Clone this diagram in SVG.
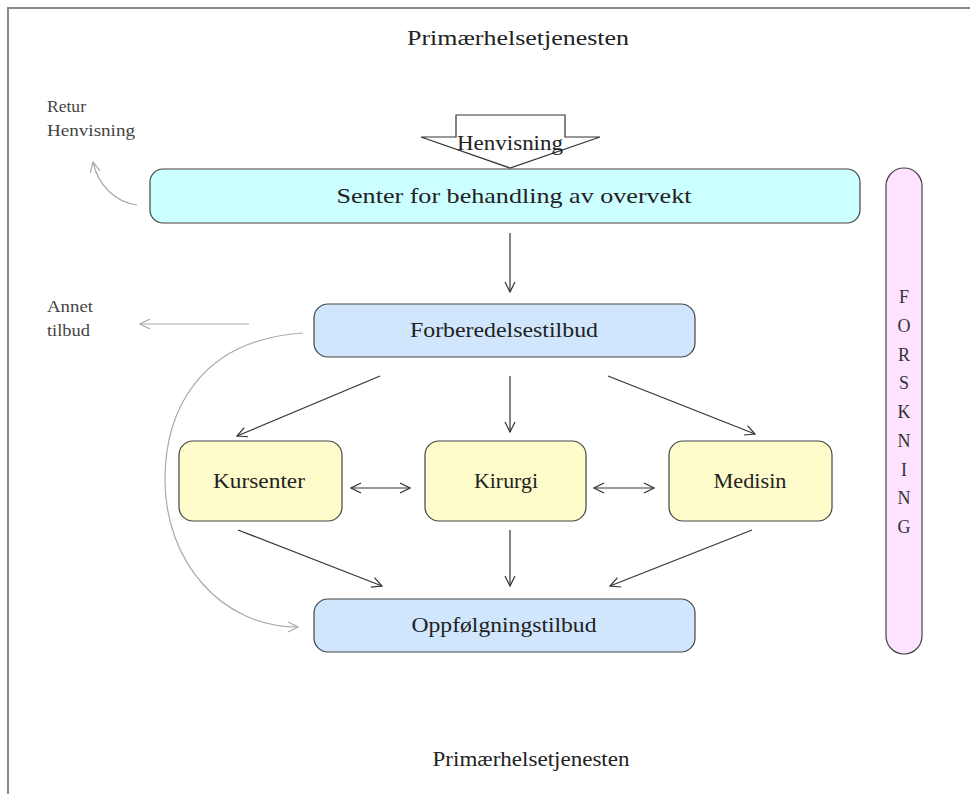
<svg xmlns="http://www.w3.org/2000/svg" width="970" height="794" viewBox="0 0 970 794">
<defs>
<marker id="ah" viewBox="0 0 12 12" refX="11" refY="6" markerWidth="12" markerHeight="12" markerUnits="userSpaceOnUse" orient="auto-start-reverse">
<path d="M1,1 L11,6 L1,11" fill="none" stroke="#333" stroke-width="1.2"/>
</marker>
<marker id="ahg" viewBox="0 0 12 12" refX="11" refY="6" markerWidth="12" markerHeight="12" markerUnits="userSpaceOnUse" orient="auto-start-reverse">
<path d="M1,1 L11,6 L1,11" fill="none" stroke="#aaa" stroke-width="1.2"/>
</marker>
</defs>
<style>
text{font-family:"Liberation Serif","DejaVu Serif",serif;fill:#222;}
.lbl{font-size:21px;text-anchor:middle;}
.side{font-size:17px;fill:#444;}
.box{stroke:#444;stroke-width:1.2;}
.ln{stroke:#333;stroke-width:1.2;fill:none;marker-end:url(#ah);}
.gl{stroke:#aaa;stroke-width:1.2;fill:none;marker-end:url(#ahg);}
.fk{font-size:18px;text-anchor:middle;fill:#333;}
</style>
<rect width="970" height="794" fill="#fff"/>
<g id="frame">
<path d="M8,794 L8,8 L970,8" fill="none" stroke="#888" stroke-width="2"/>
</g>
<text class="lbl" x="518" y="45" textLength="222" lengthAdjust="spacingAndGlyphs">Primærhelsetjenesten</text>
<text class="lbl" x="531" y="766" font-size="20" textLength="197" lengthAdjust="spacingAndGlyphs">Primærhelsetjenesten</text>
<text class="side" x="47" y="112" textLength="39" lengthAdjust="spacingAndGlyphs">Retur</text>
<text class="side" x="47" y="136" textLength="88" lengthAdjust="spacingAndGlyphs">Henvisning</text>
<text class="side" x="47" y="312" textLength="46" lengthAdjust="spacingAndGlyphs">Annet</text>
<text class="side" x="47" y="336" textLength="43" lengthAdjust="spacingAndGlyphs">tilbud</text>
<g id="connectors">
<path class="ln" d="M510,233 L510,292"/>
<path class="ln" d="M380,376 L237,436"/>
<path class="ln" d="M510,376 L510,432"/>
<path class="ln" d="M608,376 L755,434"/>
<path class="ln" d="M351,488 L410,488" marker-start="url(#ah)"/>
<path class="ln" d="M594,488 L654,488" marker-start="url(#ah)"/>
<path class="ln" d="M238,530 L382,586"/>
<path class="ln" d="M510,530 L510,586"/>
<path class="ln" d="M752,530 L610,586"/>
<path class="gl" d="M249,324 L140,324"/>
<path class="gl" d="M303,333 C200,340 165,410 165,480 C165,560 220,627 298,627"/>
<path class="gl" d="M137,205 C115,202 98,185 93,162"/>
</g>
<g id="henvisning">
<path d="M456,115 L565,115 L565,137 L600,137 L510,168 L421,137 L456,137 Z" fill="#fff" stroke="#333" stroke-width="1.2"/>
<text class="lbl" x="510" y="150" textLength="106" lengthAdjust="spacingAndGlyphs">Henvisning</text>
</g>
<g id="senter">
<rect class="box" x="150" y="169" width="710" height="54" rx="13" fill="#ccffff"/>
<text class="lbl" x="514" y="203" textLength="355" lengthAdjust="spacingAndGlyphs">Senter for behandling av overvekt</text>
</g>
<g id="forberedelse">
<rect class="box" x="314" y="304" width="381" height="53" rx="14" fill="#cfe6fc"/>
<text class="lbl" x="504" y="337" textLength="188" lengthAdjust="spacingAndGlyphs">Forberedelsestilbud</text>
</g>
<g id="kursenter">
<rect class="box" x="179" y="441" width="163" height="80" rx="14" fill="#fffccc"/>
<text class="lbl" x="259" y="488" textLength="92" lengthAdjust="spacingAndGlyphs">Kursenter</text>
</g>
<g id="kirurgi">
<rect class="box" x="425" y="441" width="161" height="80" rx="14" fill="#fffccc"/>
<text class="lbl" x="506" y="488" textLength="64" lengthAdjust="spacingAndGlyphs">Kirurgi</text>
</g>
<g id="medisin">
<rect class="box" x="669" y="441" width="163" height="80" rx="14" fill="#fffccc"/>
<text class="lbl" x="750" y="488" textLength="73" lengthAdjust="spacingAndGlyphs">Medisin</text>
</g>
<g id="oppfolging">
<rect class="box" x="314" y="599" width="381" height="53" rx="14" fill="#cfe6fc"/>
<text class="lbl" x="504" y="632" textLength="185" lengthAdjust="spacingAndGlyphs">Oppfølgningstilbud</text>
</g>
<g id="forskning">
<rect class="box" x="886" y="168" width="36" height="486" rx="18" fill="#ffe2ff"/>
<text class="fk" x="904" y="303">F</text>
<text class="fk" x="904" y="332">O</text>
<text class="fk" x="904" y="361">R</text>
<text class="fk" x="904" y="389">S</text>
<text class="fk" x="904" y="418">K</text>
<text class="fk" x="904" y="447">N</text>
<text class="fk" x="904" y="476">I</text>
<text class="fk" x="904" y="504">N</text>
<text class="fk" x="904" y="533">G</text>
</g>
</svg>
